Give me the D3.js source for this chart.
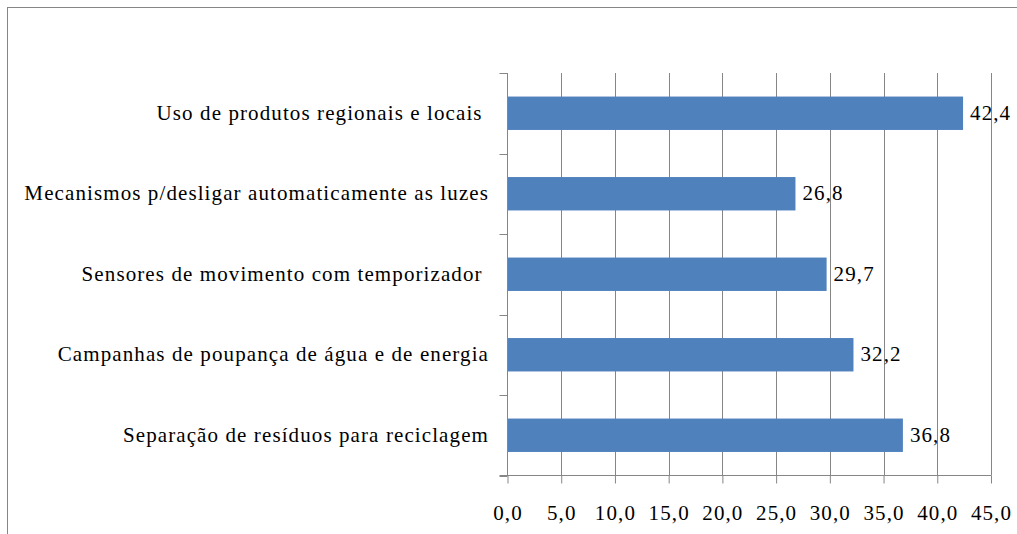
<!DOCTYPE html>
<html>
<head>
<meta charset="utf-8">
<script src="https://cdn.jsdelivr.net/npm/d3@7"></script>
<style>
  body { margin: 0; background: #fff; }
</style>
</head>
<body>
<div id="chart"></div>
<script>
// Data arrays
let categories = [
  "Uso de produtos regionais e locais ",
  "Mecanismos p/desligar automaticamente as luzes",
  "Sensores de movimento com temporizador ",
  "Campanhas de poupança de água e de energia",
  "Separação de resíduos para reciclagem"
];
let values = [42.4, 26.8, 29.7, 32.2, 36.8];
let xTicks = [0, 5, 10, 15, 20, 25, 30, 35, 40, 45];

let width = 1017, height = 534;
let plotLeft = 507.5, plotRight = 991, plotTop = 73, plotBottom = 475.5;

let svg = d3.select("#chart")
  .append("svg")
  .attr("width", width)
  .attr("height", height);

// outer frame (runs off the right and bottom edges)
svg.append("rect")
  .attr("x", 7.5).attr("y", 7.5)
  .attr("width", 1020).attr("height", 540)
  .attr("fill", "none")
  .attr("stroke", "#868686");

let x = d3.scaleLinear().domain([0, 45]).range([plotLeft, plotRight]);
let y = d3.scaleBand().domain(categories).range([plotTop, plotBottom]).paddingInner(0.585).paddingOuter(0.2925);

let fmt = d => d.toFixed(1).replace(".", ",");

// shared text styling
function textStyle(selection) {
  selection
    .style("font-family", "'Liberation Serif'")
    .style("font-size", "21px")
    .style("letter-spacing", "1.1px")
    .attr("fill", "#000");
}

// gridlines
svg.selectAll(".grid")
  .data(xTicks.slice(1))
  .enter()
  .append("line")
  .attr("x1", d => Math.round(x(d)) + 0.5)
  .attr("x2", d => Math.round(x(d)) + 0.5)
  .attr("y1", plotTop)
  .attr("y2", plotBottom)
  .attr("stroke", "#868686");

// bars
svg.selectAll(".bar")
  .data(values)
  .enter()
  .append("rect")
  .attr("x", x(0))
  .attr("y", (d, i) => y(categories[i]))
  .attr("width", d => x(d) - x(0))
  .attr("height", y.bandwidth())
  .attr("fill", "#4F81BD");

// x axis
let xAxis = d3.axisBottom(x)
  .tickValues(xTicks)
  .tickSize(8)
  .tickFormat(fmt);

let gx = svg.append("g")
  .attr("transform", "translate(0," + plotBottom + ")")
  .call(xAxis);
gx.attr("font-family", null).attr("font-size", null);
gx.select(".domain").attr("stroke", "#868686").attr("d", "M" + (plotLeft - 8) + ",0H" + plotRight);
gx.selectAll(".tick line").attr("stroke", "#868686");
gx.selectAll(".tick text")
  .attr("y", 44)
  .attr("dy", 0)
  .call(textStyle);

// y axis: ticks at category boundaries
let bounds = d3.range(categories.length + 1).map(i => plotTop + i * (plotBottom - plotTop) / categories.length);
svg.append("line")
  .attr("x1", plotLeft).attr("x2", plotLeft)
  .attr("y1", plotTop).attr("y2", plotBottom)
  .attr("stroke", "#868686");
svg.selectAll(".ytick")
  .data(bounds)
  .enter()
  .append("line")
  .attr("x1", plotLeft - 8).attr("x2", plotLeft)
  .attr("y1", d => Math.round(d) + 0.5)
  .attr("y2", d => Math.round(d) + 0.5)
  .attr("stroke", "#868686");

// category labels (trailing spaces kept via xml:space)
svg.selectAll(".cat")
  .data(categories)
  .enter()
  .append("text")
  .attr("x", 489)
  .attr("y", d => y(d) + y.bandwidth() / 2 + 6.5)
  .attr("text-anchor", "end")
  .attr("xml:space", "preserve")
  .call(textStyle)
  .text(d => d);

// value labels
svg.selectAll(".val")
  .data(values)
  .enter()
  .append("text")
  .attr("x", d => x(d) + 7)
  .attr("y", (d, i) => y(categories[i]) + y.bandwidth() / 2 + 6.5)
  .call(textStyle)
  .text(fmt);
</script>
</body>
</html>
